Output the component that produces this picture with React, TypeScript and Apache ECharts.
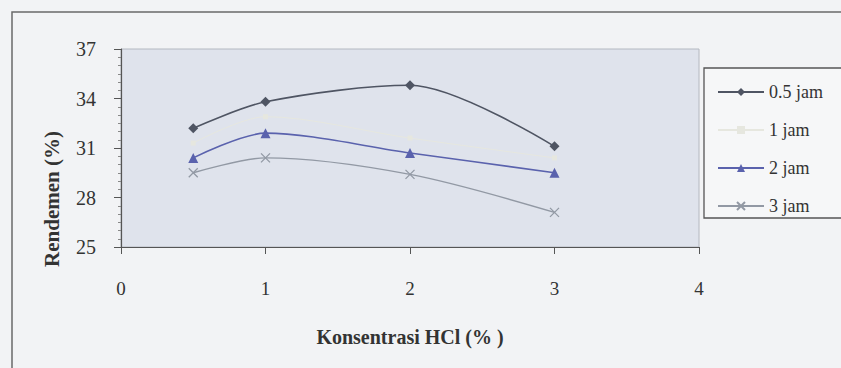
import React, { useEffect, useRef } from "react";
import * as echarts from "echarts";

const concentrations = [0.5, 1, 2, 3];
const seriesNames = ["0.5 jam", "1 jam", "2 jam", "3 jam"];
const jam05 = [32.2, 33.8, 34.8, 31.1];
const jam1 = [31.3, 32.9, 31.6, 30.4];
const jam2 = [30.4, 31.9, 30.7, 29.5];
const jam3 = [29.5, 30.4, 29.4, 27.1];
const xTicks = [0, 1, 2, 3, 4];
const yTicks = [25, 28, 31, 34, 37];

const SERIF = "'Liberation Serif', 'DejaVu Serif', serif";

export default function App() {
  const ref = useRef<HTMLDivElement>(null);
  useEffect(() => {
    if (!ref.current) return;
    const chart = echarts.init(ref.current, undefined, { renderer: "svg" });
    const pairs = (vals: number[]) => concentrations.map((c, i) => [c, vals[i]]);
    const colors = ["#4f5563", "#e6e7df", "#5a62ad", "#9299a4"];
    chart.setOption({
      animation: false,
      backgroundColor: "#f2f3f5",
      grid: {
        left: 121,
        top: 49,
        width: 578,
        height: 198,
        show: true,
        backgroundColor: "#dfe3ec",
        borderColor: "#b4b8c0",
        borderWidth: 1,
      },
      legend: {
        orient: "vertical",
        left: 712,
        top: 78,
        itemWidth: 46,
        itemHeight: 10,
        itemGap: 20,
        data: seriesNames,
        textStyle: { fontFamily: SERIF, fontSize: 18, color: "#333", lineHeight: 18 },
      },
      xAxis: {
        type: "value",
        min: xTicks[0],
        max: xTicks[xTicks.length - 1],
        interval: 1,
        axisLine: { show: true, lineStyle: { color: "#555", width: 1.2 } },
        axisTick: { show: true, length: 7, lineStyle: { color: "#555" } },
        axisLabel: { margin: 32, fontFamily: SERIF, fontSize: 19, color: "#333" },
        splitLine: { show: false },
      },
      yAxis: {
        type: "value",
        min: yTicks[0],
        max: yTicks[yTicks.length - 1],
        interval: 3,
        axisLine: { show: true, lineStyle: { color: "#555", width: 1.2 } },
        axisTick: { show: true, length: 7, lineStyle: { color: "#555" } },
        minorTick: { show: true, splitNumber: 6, length: 3, lineStyle: { color: "#888" } },
        axisLabel: { margin: 25, fontFamily: SERIF, fontSize: 20, color: "#333" },
        splitLine: { show: false },
      },
      graphic: [
        {
          type: "rect",
          silent: true,
          shape: { x: 12, y: 12, width: 860, height: 380 },
          style: { fill: "none", stroke: "#6a6a6a", lineWidth: 1.5 },
          z: 100,
        },
        {
          type: "rect",
          silent: true,
          shape: { x: 704, y: 68, width: 200, height: 150 },
          style: { fill: "#f6f7f8", stroke: "#555", lineWidth: 1.3 },
          z: -1,
        },
        {
          type: "text",
          x: 410,
          y: 337,
          style: {
            text: "Konsentrasi HCl (% )",
            fontFamily: SERIF,
            fontWeight: "bold",
            fontSize: 20,
            fill: "#333",
            textAlign: "center",
            textVerticalAlign: "middle",
          },
        },
        {
          type: "text",
          x: 52,
          y: 199,
          rotation: Math.PI / 2,
          style: {
            text: "Rendemen (%)",
            fontFamily: SERIF,
            fontWeight: "bold",
            fontSize: 21,
            fill: "#333",
            textAlign: "center",
            textVerticalAlign: "middle",
          },
        },
      ],
      series: [
        {
          name: seriesNames[0],
          type: "line",
          smooth: 0.3,
          data: pairs(jam05),
          symbol: "diamond",
          symbolSize: 10,
          lineStyle: { color: colors[0], width: 1.6 },
          itemStyle: { color: colors[0] },
        },
        {
          name: seriesNames[1],
          type: "line",
          smooth: 0.3,
          data: pairs(jam1),
          symbol: "rect",
          symbolSize: 5,
          lineStyle: { color: colors[1], width: 1 },
          itemStyle: { color: colors[1] },
        },
        {
          name: seriesNames[2],
          type: "line",
          smooth: 0.3,
          data: pairs(jam2),
          symbol: "triangle",
          symbolSize: 10,
          lineStyle: { color: colors[2], width: 1.6 },
          itemStyle: { color: colors[2] },
        },
        {
          name: seriesNames[3],
          type: "line",
          smooth: 0.3,
          data: pairs(jam3),
          symbol: "path://M0,0L10,10M10,0L0,10",
          symbolSize: 9,
          lineStyle: { color: colors[3], width: 1.4 },
          itemStyle: { color: colors[3], borderColor: colors[3], borderWidth: 1.3 },
        },
      ],
    });
    return () => chart.dispose();
  }, []);
  return (
    <div
      ref={ref}
      style={{ position: "fixed", left: 0, top: 0, width: 841, height: 368 }}
    />
  );
}
